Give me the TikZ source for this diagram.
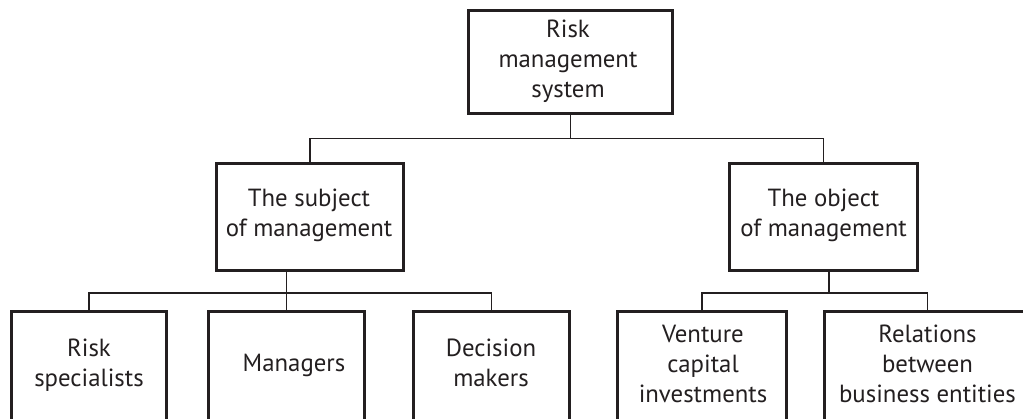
\documentclass[tikz,border=0pt]{standalone}
\usepackage{fontspec}
\setmainfont{PT Sans}
\definecolor{ink}{RGB}{35,31,32}
\begin{document}
\begin{tikzpicture}[x=1pt,y=-1pt,
  box/.style={draw=ink, line width=3pt, rectangle, inner sep=0pt},
  conn/.style={draw=ink, line width=1.3pt},
  lbl/.style={font=\fontsize{24.8}{30}\selectfont, align=center, anchor=base, inner sep=0pt, text=ink}]
\useasboundingbox (0,0) rectangle (1023,419);
\clip (0,0) rectangle (1023,419);
% boxes
\node[box, minimum width=204pt, minimum height=103pt] (top) at (570.5,62) {};
\node[box, minimum width=187pt, minimum height=107pt] (subj) at (310,217) {};
\node[box, minimum width=188pt, minimum height=107pt] (obj) at (823.5,217) {};
\node[box, minimum width=155pt, minimum height=120pt] (risk) at (89,372) {};
\node[box, minimum width=156pt, minimum height=120pt] (man) at (286.5,372) {};
\node[box, minimum width=156pt, minimum height=120pt] (dec) at (491.5,372) {};
\node[box, minimum width=169pt, minimum height=120pt] (ven) at (702,372) {};
\node[box, minimum width=206pt, minimum height=120pt] (rel) at (927.5,372) {};
% texts (anchored at the baseline of the last line)
\node[lbl] (topt) at (568,98) {Risk\\management\\system};
\node[lbl] (subjt) at (309,237) {The subject\\of management};
\node[lbl] (objt) at (823.5,237) {The object\\of management};
\node[lbl] (riskt) at (89,387) {Risk\\specialists};
\node[lbl] (mant) at (294,372) {Managers};
\node[lbl] (dect) at (491,387) {Decision\\makers};
\node[lbl] (vent) at (703,403) {Venture\\capital\\investments};
\node[lbl] (relt) at (927.5,403) {Relations\\between\\business entities};
% junctions
\coordinate (j1) at (570.5,138.5);
\coordinate (j2) at (286.5,293);
\coordinate (j3) at (829,293);
% connectors
\draw[conn] (top.south) -- (j1);
\draw[conn] (subj.north) |- (j1) -| (obj.north);
\draw[conn] (j2 |- subj.south) -- (man.north);
\draw[conn] (risk.north) |- (j2) -| (dec.north);
\draw[conn] (j3 |- obj.south) -- (j3);
\draw[conn] (ven.north) |- (j3) -| (rel.north);
\end{tikzpicture}
\end{document}
